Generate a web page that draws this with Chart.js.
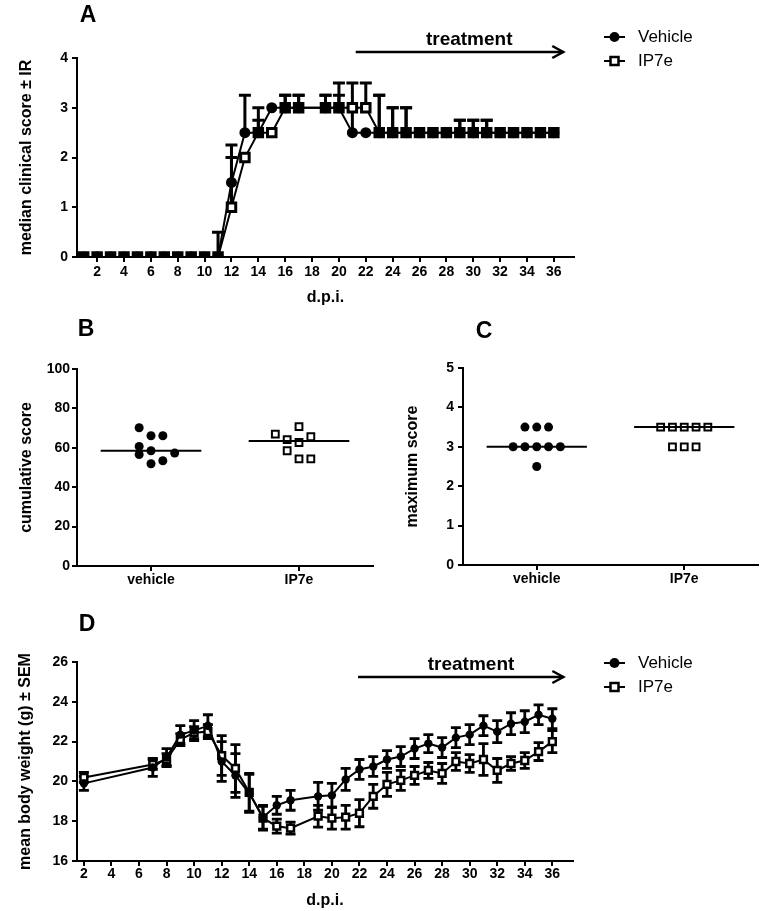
<!DOCTYPE html>
<html>
<head>
<meta charset="utf-8">
<script src="https://cdn.jsdelivr.net/npm/chart.js@4.4.1/dist/chart.umd.min.js"></script>
<style>
html,body{margin:0;padding:0;background:#fff;}
#wrap{position:relative;width:765px;height:911px;overflow:hidden;background:#fff;}
canvas{position:absolute;display:block;}
</style>
</head>
<body>
<div id="wrap">
<canvas id="cA" width="765" height="310" style="left:0;top:0"></canvas>
<canvas id="cB" width="380" height="300" style="left:0;top:310px"></canvas>
<canvas id="cC" width="385" height="300" style="left:380px;top:310px"></canvas>
<canvas id="cD" width="765" height="301" style="left:0;top:610px"></canvas>
</div>
<script>
// ---------------- DATA ----------------
// Panel A: median clinical score (± IR, upper quartile shown)
const daysA = [1,2,3,4,5,6,7,8,9,10,11,12,13,14,15,16,17,19,20,21,22,23,24,25,26,27,28,29,30,31,32,33,34,35,36];
const vehicleMedianA = [0,0,0,0,0,0,0,0,0,0,0,1.5,2.5,2.5,3,3,3,3,3,2.5,2.5,2.5,2.5,2.5,2.5,2.5,2.5,2.5,2.5,2.5,2.5,2.5,2.5,2.5,2.5];
const vehicleUpperA  = [0,0,0,0,0,0,0,0,0,0,0.5,2.25,3.25,3,3,3.25,3.25,3.25,3.25,3,2.5,3.25,3,3,2.5,2.5,2.5,2.75,2.75,2.75,2.5,2.5,2.5,2.5,2.5];
const ip7eMedianA    = [0,0,0,0,0,0,0,0,0,0,0,1,2,2.5,2.5,3,3,3,3,3,3,2.5,2.5,2.5,2.5,2.5,2.5,2.5,2.5,2.5,2.5,2.5,2.5,2.5,2.5];
const ip7eUpperA     = [0,0,0,0,0,0,0,0,0,0,0,2,2,2.75,2.5,3.25,3.25,3.25,3.5,3.5,3.5,3.25,3,3,2.5,2.5,2.5,2.75,2.75,2.75,2.5,2.5,2.5,2.5,2.5];
const dayTicks = [2,4,6,8,10,12,14,16,18,20,22,24,26,28,30,32,34,36];
const scoreTicksA = [0,1,2,3,4];

// Panel B: cumulative score
const groups = ['vehicle', 'IP7e'];
const cumVehicle     = [70.2, 66.1, 66.1, 60.7, 56.6, 58.5, 57.3, 51.9, 53.4];
const cumVehicleSlot = [-1, 0, 1, -1, -1, 0, 2, 0, 1];
const cumIP7e        = [66.9, 64.1, 70.7, 65.6, 62.7, 58.5, 54.4, 54.4];
const cumIP7eSlot    = [-2, -1, 0, 1, 0, -1, 0, 1];
const cumMedians     = [58.5, 63.4];
const cumTicks       = [0,20,40,60,80,100];

// Panel C: maximum score
const maxVehicle     = [3.5, 3.5, 3.5, 3, 3, 3, 3, 3, 2.5];
const maxVehicleSlot = [-1, 0, 1, -2, -1, 0, 1, 2, 0];
const maxIP7e        = [3.5, 3.5, 3.5, 3.5, 3.5, 3, 3, 3];
const maxIP7eSlot    = [-2, -1, 0, 1, 2, -1, 0, 1];
const maxMedians     = [3, 3.5];
const maxTicks       = [0,1,2,3,4,5];

// Panel D: mean body weight (g) ± SEM
const daysD = [2,7,8,9,10,11,12,13,14,15,16,17,19,20,21,22,23,24,25,26,27,28,29,30,31,32,33,34,35,36];
const vehicleWeight = [19.9,20.7,21.2,22.35,22.55,22.8,21.0,20.3,19.4,18.2,18.8,19.05,19.25,19.3,20.1,20.6,20.75,21.1,21.25,21.65,21.9,21.7,22.2,22.35,22.8,22.5,22.9,23.0,23.35,23.15];
const vehicleSEM    = [0.35,0.45,0.45,0.45,0.5,0.55,1.0,1.1,0.95,0.6,0.45,0.5,0.7,0.6,0.55,0.5,0.5,0.45,0.5,0.5,0.45,0.5,0.5,0.5,0.5,0.55,0.55,0.55,0.5,0.5];
const ip7eWeight    = [20.2,20.85,21.1,22.1,22.45,22.5,21.3,20.65,19.45,18.15,17.75,17.65,18.25,18.15,18.2,18.4,19.25,19.85,20.05,20.3,20.55,20.4,21.0,20.9,21.1,20.55,20.9,21.05,21.5,22.0];
const ip7eSEM       = [0.25,0.25,0.3,0.3,0.3,0.35,1.0,1.2,0.95,0.6,0.35,0.3,0.55,0.55,0.6,0.68,0.6,0.6,0.5,0.45,0.4,0.5,0.45,0.45,0.8,0.6,0.35,0.4,0.45,0.55];
const weightTicks = [16,18,20,22,24,26];

const seriesNames = ['Vehicle', 'IP7e'];

// ---------------- HELPERS ----------------
const FONT = "'Liberation Sans', Arial, Helvetica, sans-serif";
const TICK_FONT = {family: FONT, size: 14, weight: 'bold'};
const TITLE_FONT = {family: FONT, size: 16, weight: 'bold'};

function pts(xs, ys) { return xs.map((x, i) => ({x: x, y: ys[i]})); }

function xAxis(o) {
  return {
    type: 'linear', min: o.min, max: o.max,
    afterBuildTicks: s => { s.ticks = o.ticks.map(v => ({value: v})); },
    afterFit: s => { s.height = o.height; },
    ticks: {color: '#000', font: TICK_FONT, padding: o.pad, maxRotation: 0, autoSkip: false,
            callback: o.cb || (v => String(v))},
    grid: {display: true, drawOnChartArea: false, drawTicks: true, tickLength: 5, color: '#000', lineWidth: 2},
    border: {display: true, color: '#000', width: 2},
    title: o.title ? {display: true, text: o.title, color: '#000', font: TITLE_FONT, padding: {top: 0, bottom: o.titlePad}} : {display: false}
  };
}
function yAxis(o) {
  return {
    type: 'linear', min: o.ticks[0], max: o.ticks[o.ticks.length - 1],
    afterBuildTicks: s => { s.ticks = o.ticks.map(v => ({value: v})); },
    afterFit: s => { s.width = o.width; },
    ticks: {color: '#000', font: TICK_FONT, padding: o.pad, callback: v => String(v)},
    grid: {display: true, drawOnChartArea: false, drawTicks: true, tickLength: 5, color: '#000', lineWidth: 2},
    border: {display: true, color: '#000', width: 2},
    title: {display: true, text: o.title, color: '#000', font: TITLE_FONT, padding: {top: o.titlePad, bottom: 0}}
  };
}

const errorBarPlugin = {
  id: 'errorBars',
  beforeDatasetsDraw(chart, args, opts) {
    const bars = opts.bars || [];
    const xs = chart.scales.x, ys = chart.scales.y, ctx = chart.ctx;
    ctx.save();
    ctx.strokeStyle = '#000';
    ctx.lineCap = 'butt';
    bars.forEach(b => {
      ctx.lineWidth = b.lw;
      b.x.forEach((xv, i) => {
        const lo = b.lower[i], hi = b.upper[i];
        if (hi - lo < 1e-9) return;
        const px = xs.getPixelForValue(xv);
        const pl = ys.getPixelForValue(lo), ph = ys.getPixelForValue(hi);
        ctx.beginPath();
        ctx.moveTo(px, pl); ctx.lineTo(px, ph);
        ctx.moveTo(px - b.cap / 2, ph); ctx.lineTo(px + b.cap / 2, ph);
        if (b.lowerCap) { ctx.moveTo(px - b.cap / 2, pl); ctx.lineTo(px + b.cap / 2, pl); }
        ctx.stroke();
      });
    });
    ctx.restore();
  }
};

function drawMarker(ctx, kind, x, y, size) {
  if (kind === 'circle') {
    ctx.beginPath(); ctx.arc(x, y, size, 0, Math.PI * 2); ctx.fillStyle = '#000'; ctx.fill();
  } else {
    ctx.beginPath(); ctx.rect(x - size, y - size, size * 2, size * 2);
    ctx.fillStyle = '#fff'; ctx.fill(); ctx.lineWidth = 2.5; ctx.strokeStyle = '#000'; ctx.stroke();
  }
}

const extrasPlugin = {
  id: 'extras',
  afterDatasetsDraw(chart, args, o) {
    const ctx = chart.ctx;
    if (o.medians) {
      const xs = chart.scales.x, ys = chart.scales.y;
      ctx.save();
      ctx.strokeStyle = '#000'; ctx.lineWidth = 2;
      o.medians.values.forEach((m, i) => {
        const py = ys.getPixelForValue(m);
        ctx.beginPath();
        ctx.moveTo(xs.getPixelForValue(i - o.medians.half), py);
        ctx.lineTo(xs.getPixelForValue(i + o.medians.half), py);
        ctx.stroke();
      });
      ctx.restore();
    }
  },
  afterDraw(chart, args, o) {
    const ctx = chart.ctx;
    ctx.save();
    ctx.fillStyle = '#000';
    if (o.letter) {
      ctx.font = `bold 23px ${FONT}`;
      ctx.textAlign = 'center'; ctx.textBaseline = 'middle';
      ctx.fillText(o.letter.text, o.letter.x, o.letter.y);
    }
    if (o.arrow) {
      const xs = chart.scales.x;
      const x0 = xs.getPixelForValue(o.arrow.from), x1 = xs.getPixelForValue(o.arrow.to);
      const y = o.arrow.y;
      ctx.strokeStyle = '#000'; ctx.lineWidth = 2.5;
      ctx.beginPath(); ctx.moveTo(x0, y); ctx.lineTo(x1, y); ctx.stroke();
      ctx.beginPath(); ctx.moveTo(x1 - 11, y - 6); ctx.lineTo(x1, y); ctx.lineTo(x1 - 11, y + 6); ctx.stroke();
      ctx.font = `bold 19px ${FONT}`;
      ctx.textAlign = 'center'; ctx.textBaseline = 'middle';
      ctx.fillText(o.arrow.text, xs.getPixelForValue(o.arrow.textAt), o.arrow.textY);
    }
    if (o.legend) {
      const L = o.legend;
      L.names.forEach((name, k) => {
        const y = L.y + k * L.dy;
        ctx.strokeStyle = '#000'; ctx.lineWidth = 2;
        ctx.beginPath(); ctx.moveTo(L.x0, y); ctx.lineTo(L.x1, y); ctx.stroke();
        drawMarker(ctx, k === 0 ? 'circle' : 'square', (L.x0 + L.x1) / 2, y, k === 0 ? 5 : 4);
        ctx.fillStyle = '#000';
        ctx.font = `17px ${FONT}`;
        ctx.textAlign = 'left'; ctx.textBaseline = 'middle';
        ctx.fillText(name, L.tx, y);
      });
    }
    ctx.restore();
  }
};

Chart.register(errorBarPlugin, extrasPlugin);

const base = {
  responsive: false, animation: false, devicePixelRatio: 1, events: [],
};

// ---------------- PANEL A ----------------
new Chart(document.getElementById('cA'), {
  type: 'line',
  data: {datasets: [
    {label: seriesNames[0], data: pts(daysA, vehicleMedianA), borderColor: '#000', borderWidth: 2,
     pointStyle: 'circle', pointRadius: 5.5, pointBackgroundColor: '#000', pointBorderColor: '#000', pointBorderWidth: 0, tension: 0},
    {label: seriesNames[1], data: pts(daysA, ip7eMedianA), borderColor: '#000', borderWidth: 2,
     pointStyle: 'rect', pointRadius: 6, pointBackgroundColor: '#fff', pointBorderColor: '#000', pointBorderWidth: 3, tension: 0}
  ]},
  options: Object.assign({}, base, {
    layout: {padding: {left: 0, top: 58, right: 191, bottom: 0}},
    plugins: {
      legend: {display: false}, tooltip: {enabled: false},
      errorBars: {bars: [
        {x: daysA, lower: vehicleMedianA, upper: vehicleUpperA, cap: 12, lw: 3},
        {x: daysA, lower: ip7eMedianA, upper: ip7eUpperA, cap: 12, lw: 3}
      ]},
      extras: {
        letter: {text: 'A', x: 88, y: 16},
        arrow: {from: 21.25, to: 36.7, y: 52, text: 'treatment', textAt: 29.7, textY: 40},
        legend: {names: seriesNames, x0: 604, x1: 625, tx: 638, y: 37, dy: 24}
      }
    },
    scales: {
      x: xAxis({min: 0.5, max: 37.5, ticks: dayTicks, height: 53, pad: 2, title: 'd.p.i.', titlePad: 3}),
      y: yAxis({ticks: scoreTicksA, width: 77, pad: 4, title: 'median clinical score \u00b1 IR', titlePad: 17})
    }
  })
});

// ---------------- PANEL B ----------------
const SLOT = 0.08;
new Chart(document.getElementById('cB'), {
  type: 'scatter',
  data: {datasets: [
    {label: groups[0], data: cumVehicle.map((v, i) => ({x: 0 + cumVehicleSlot[i] * SLOT, y: v})),
     pointStyle: 'circle', pointRadius: 4.5, pointBackgroundColor: '#000', pointBorderWidth: 0, showLine: false},
    {label: groups[1], data: cumIP7e.map((v, i) => ({x: 1 + cumIP7eSlot[i] * SLOT, y: v})),
     pointStyle: 'rect', pointRadius: 4.8, pointBackgroundColor: '#fff', pointBorderColor: '#000', pointBorderWidth: 2, showLine: false}
  ]},
  options: Object.assign({}, base, {
    layout: {padding: {left: 0, top: 59, right: 7, bottom: 0}},
    plugins: {
      legend: {display: false}, tooltip: {enabled: false},
      extras: {
        letter: {text: 'B', x: 86, y: 20},
        medians: {values: cumMedians, half: 0.34}
      }
    },
    scales: {
      x: xAxis({min: -0.5, max: 1.5, ticks: [0, 1], height: 44, pad: 1, cb: v => groups[v]}),
      y: yAxis({ticks: cumTicks, width: 77, pad: 2, title: 'cumulative score', titlePad: 17})
    }
  })
});

// ---------------- PANEL C ----------------
new Chart(document.getElementById('cC'), {
  type: 'scatter',
  data: {datasets: [
    {label: groups[0], data: maxVehicle.map((v, i) => ({x: 0 + maxVehicleSlot[i] * SLOT, y: v})),
     pointStyle: 'circle', pointRadius: 4.5, pointBackgroundColor: '#000', pointBorderWidth: 0, showLine: false},
    {label: groups[1], data: maxIP7e.map((v, i) => ({x: 1 + maxIP7eSlot[i] * SLOT, y: v})),
     pointStyle: 'rect', pointRadius: 4.8, pointBackgroundColor: '#fff', pointBorderColor: '#000', pointBorderWidth: 2, showLine: false}
  ]},
  options: Object.assign({}, base, {
    layout: {padding: {left: 0, top: 58, right: 7, bottom: 0}},
    plugins: {
      legend: {display: false}, tooltip: {enabled: false},
      extras: {
        letter: {text: 'C', x: 104, y: 22},
        medians: {values: maxMedians, half: 0.34}
      }
    },
    scales: {
      x: xAxis({min: -0.5, max: 1.5, ticks: [0, 1], height: 45, pad: 1, cb: v => groups[v]}),
      y: yAxis({ticks: maxTicks, width: 83, pad: 4, title: 'maximum score', titlePad: 23})
    }
  })
});

// ---------------- PANEL D ----------------
new Chart(document.getElementById('cD'), {
  type: 'line',
  data: {datasets: [
    {label: seriesNames[0], data: pts(daysD, vehicleWeight), borderColor: '#000', borderWidth: 2,
     pointStyle: 'circle', pointRadius: 4.2, pointBackgroundColor: '#000', pointBorderWidth: 0, tension: 0},
    {label: seriesNames[1], data: pts(daysD, ip7eWeight), borderColor: '#000', borderWidth: 2,
     pointStyle: 'rect', pointRadius: 4.8, pointBackgroundColor: '#fff', pointBorderColor: '#000', pointBorderWidth: 2.5, tension: 0}
  ]},
  options: Object.assign({}, base, {
    layout: {padding: {left: 0, top: 52, right: 192, bottom: 0}},
    plugins: {
      legend: {display: false}, tooltip: {enabled: false},
      errorBars: {bars: [
        {x: daysD, lower: vehicleWeight.map((v, i) => v - vehicleSEM[i]), upper: vehicleWeight.map((v, i) => v + vehicleSEM[i]), cap: 10, lw: 2.8, lowerCap: true},
        {x: daysD, lower: ip7eWeight.map((v, i) => v - ip7eSEM[i]), upper: ip7eWeight.map((v, i) => v + ip7eSEM[i]), cap: 10, lw: 2.8, lowerCap: true}
      ]},
      extras: {
        letter: {text: 'D', x: 87, y: 15},
        arrow: {from: 21.9, to: 36.8, y: 67, text: 'treatment', textAt: 30.1, textY: 55},
        legend: {names: seriesNames, x0: 604, x1: 625, tx: 638, y: 53, dy: 24}
      }
    },
    scales: {
      x: xAxis({min: 1.5, max: 37.5, ticks: dayTicks, height: 50, pad: 0, title: 'd.p.i.', titlePad: 1}),
      y: yAxis({ticks: weightTicks, width: 77, pad: 4, title: 'mean body weight (g) \u00b1 SEM', titlePad: 16})
    }
  })
});
</script>
</body>
</html>
